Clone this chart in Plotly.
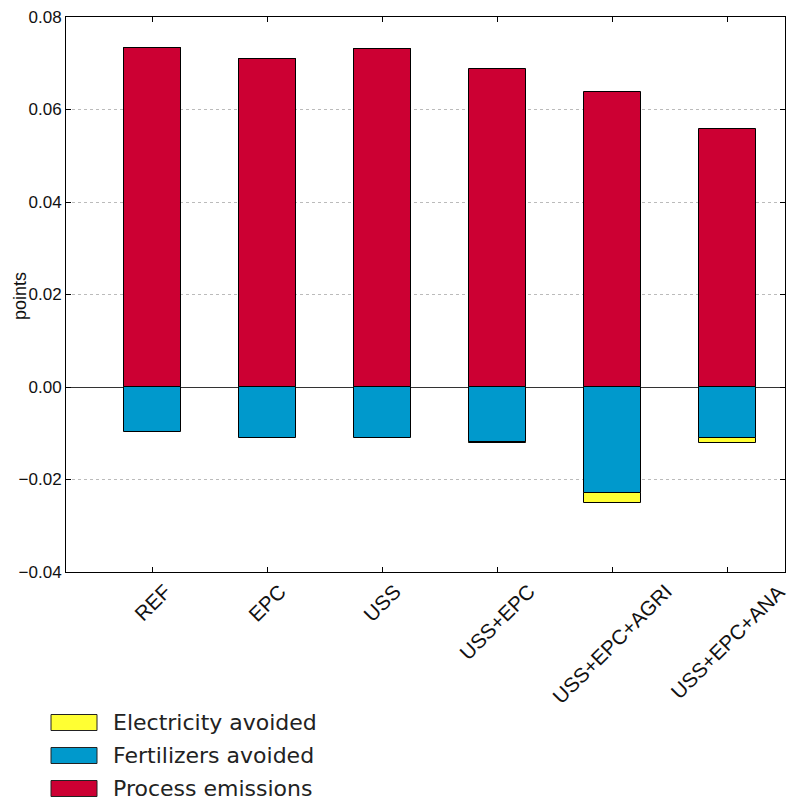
import plotly.graph_objects as go

scenarios = ["REF", "EPC", "USS", "USS+EPC", "USS+EPC+AGRI", "USS+EPC+ANA"]
process_emissions = [0.0733, 0.0709, 0.0730, 0.0687, 0.0638, 0.0558]
fertilizers_avoided = [-0.0097, -0.0110, -0.0110, -0.0119, -0.0230, -0.0110]
electricity_avoided = [0.0, 0.0, 0.0, -0.0003, -0.0021, -0.0010]

y_ticks = [-0.04, -0.02, 0.00, 0.02, 0.04, 0.06, 0.08]
y_tick_text = ["\u22120.04", "\u22120.02", "0.00", "0.02", "0.04", "0.06", "0.08"]

series = [
    ("Process emissions", process_emissions, "#CC0033"),
    ("Fertilizers avoided", fertilizers_avoided, "#0099CC"),
    ("Electricity avoided", electricity_avoided, "#FFFF33"),
]

# Plot-area geometry in pixels (used to place the legend and labels)
PL, PR, PT, PB = 66, 785, 17, 572
PW, PH = PR - PL, PB - PT


def px_x(x):
    return (x - PL) / PW


def px_y(y):
    return (PB - y) / PH


fig = go.Figure()
for name, vals, color in series:
    fig.add_trace(go.Bar(
        x=list(range(len(scenarios))), y=vals, name=name, width=0.5,
        marker=dict(color=color, line=dict(color="black", width=1)),
        showlegend=False,
    ))

# Category labels, rotated 45 degrees and centred under each bar
label_font = dict(family="Liberation Sans, Arial", size=20.5, color="#111")
for i, lab in enumerate(scenarios):
    fig.add_annotation(xref="x", yref="paper", x=i, y=px_y(PB + 5),
                       text=lab, textangle=-45, showarrow=False,
                       xanchor="center", yanchor="top", font=label_font)

# Y-axis title
fig.add_annotation(xref="paper", yref="paper", x=px_x(20), y=px_y(296),
                   text="points", textangle=-90, showarrow=False,
                   xanchor="center", yanchor="middle",
                   font=dict(family="Liberation Sans, Arial", size=18, color="#111"))

# Legend with wide swatches, listed top to bottom
legend_items = [series[2], series[1], series[0]]
for i, (name, _, color) in enumerate(legend_items):
    yc = 722.5 + i * 33
    fig.add_shape(type="rect", xref="paper", yref="paper",
                  x0=px_x(51), x1=px_x(97),
                  y0=px_y(yc - 8), y1=px_y(yc + 8),
                  fillcolor=color, line=dict(color="#222", width=1))
    fig.add_annotation(xref="paper", yref="paper", x=px_x(111), y=px_y(yc),
                       text=name, showarrow=False, xanchor="left", yanchor="middle",
                       font=dict(family="DejaVu Sans", size=22, color="#222"))

fig.update_layout(
    width=788, height=802,
    margin=dict(l=PL, r=788 - PR, t=PT, b=802 - PB),
    paper_bgcolor="white", plot_bgcolor="white",
    barmode="relative", bargap=0,
    xaxis=dict(
        range=[-0.75, 5.5], tickmode="array",
        tickvals=list(range(len(scenarios))), ticktext=[""] * len(scenarios),
        showline=True, linecolor="black", linewidth=1, mirror="ticks",
        ticks="inside", ticklen=5, tickcolor="black",
        showgrid=False, zeroline=False,
    ),
    yaxis=dict(
        range=[-0.04, 0.08], tickmode="array",
        tickvals=y_ticks, ticktext=y_tick_text,
        tickfont=dict(family="Liberation Sans, Arial", size=17, color="#111"),
        showline=True, linecolor="black", linewidth=1, mirror="ticks",
        ticks="inside", ticklen=5, tickcolor="black",
        showgrid=True, gridcolor="#bbbbbb", griddash="dot", gridwidth=1,
        zeroline=True, zerolinecolor="#333", zerolinewidth=1,
    ),
)

fig.write_html("out.html")
